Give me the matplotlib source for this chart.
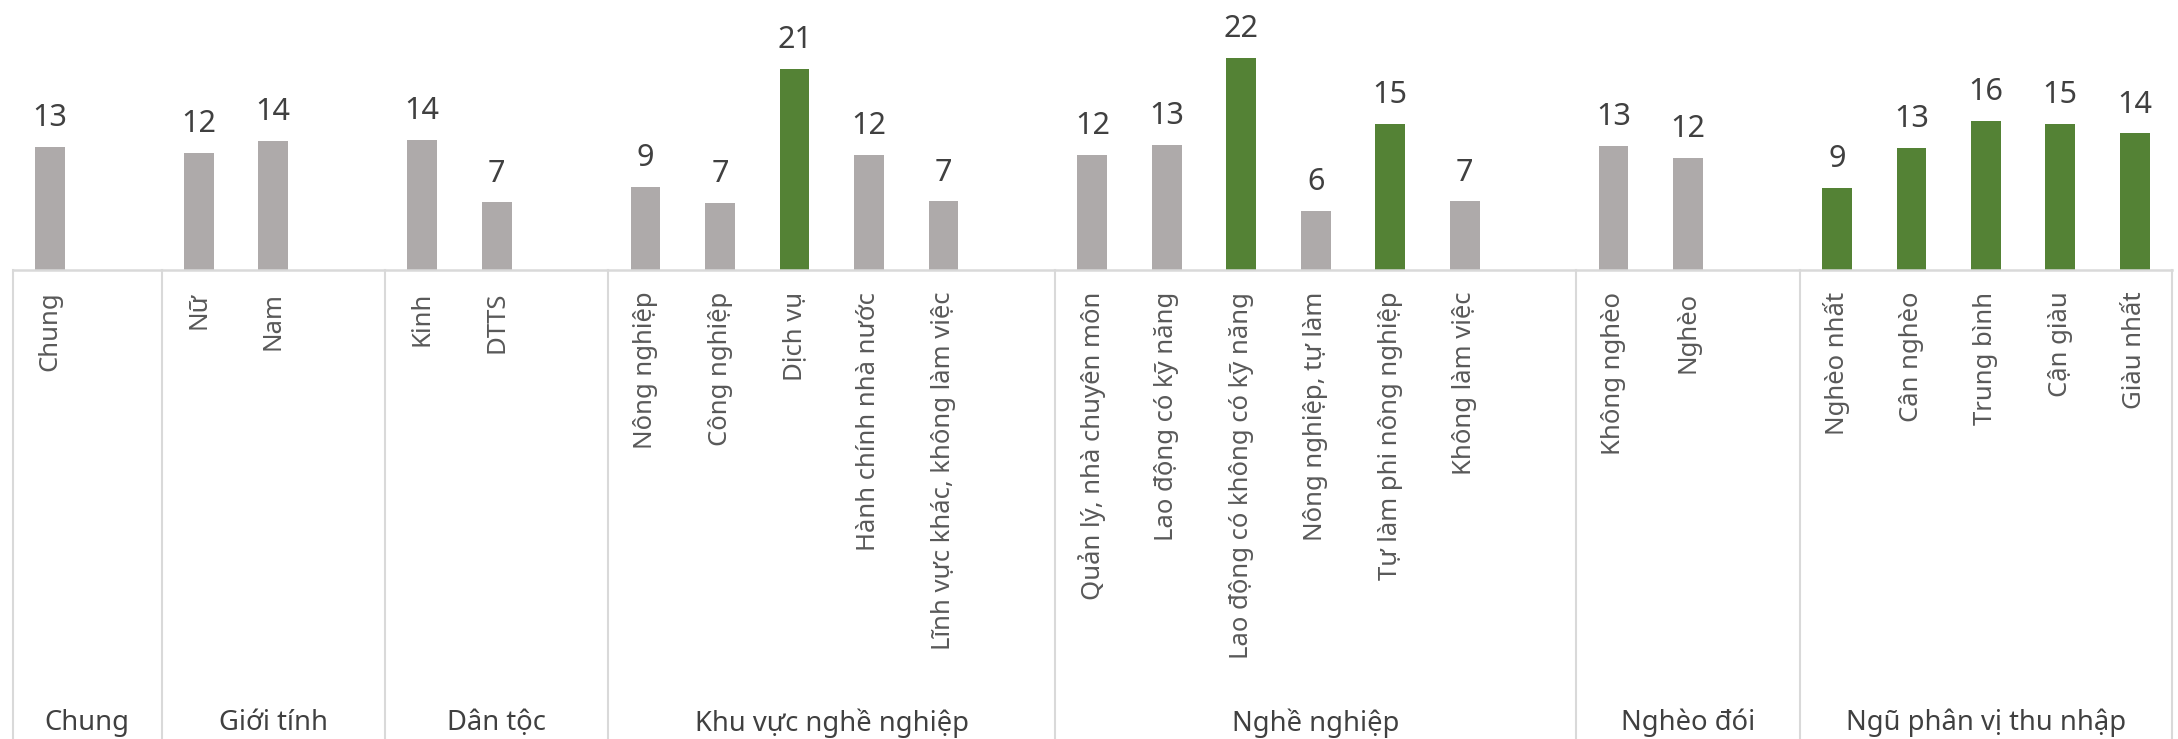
import matplotlib.pyplot as plt
import matplotlib.transforms as mtransforms

plt.rcParams['font.family'] = ['Noto Sans', 'DejaVu Sans']

# nhom va danh muc
nhom = ['Chung', 'Giới tính', 'Dân tộc', 'Khu vực nghề nghiệp',
        'Nghề nghiệp', 'Nghèo đói', 'Ngũ phân vị thu nhập']

cat_chung = ['Chung']
cat_gioi = ['Nữ', 'Nam']
cat_dantoc = ['Kinh', 'DTTS']
cat_khuvuc = ['Nông nghiệp', 'Công nghiệp', 'Dịch vụ', 'Hành chính nhà nước',
              'Lĩnh vực khác, không làm việc']
cat_nghe = ['Quản lý, nhà chuyên môn', 'Lao động có kỹ năng',
            'Lao động có không có kỹ năng', 'Nông nghiệp, tự làm',
            'Tự làm phi nông nghiệp', 'Không làm việc']
cat_ngheo = ['Không nghèo', 'Nghèo']
cat_nguphan = ['Nghèo nhất', 'Cân nghèo', 'Trung bình', 'Cận giàu', 'Giàu nhất']

val_chung = [13.0]
val_gioi = [12.3, 13.6]
val_dantoc = [13.7, 7.1]
val_khuvuc = [8.7, 7.0, 21.2, 12.1, 7.2]
val_nghe = [12.1, 13.2, 22.4, 6.2, 15.4, 7.2]
val_ngheo = [13.1, 11.8]
val_nguphan = [8.6, 12.9, 15.7, 15.4, 14.4]

# so o trong cuoi moi nhom (truc danh muc cua Excel)
o_trong = [1, 1, 1, 1, 1, 1, 0]

noi_bat = ['Dịch vụ', 'Lao động có không có kỹ năng', 'Tự làm phi nông nghiệp'] + cat_nguphan

cats = [cat_chung, cat_gioi, cat_dantoc, cat_khuvuc, cat_nghe, cat_ngheo, cat_nguphan]
vals = [val_chung, val_gioi, val_dantoc, val_khuvuc, val_nghe, val_ngheo, val_nguphan]

#%% vi tri

x, nhan, gt, mau = [], [], [], []
bien = [-0.5]
tam = []
pos = 0
for cs, vs, tr in zip(cats, vals, o_trong):
    start = pos
    for c, v in zip(cs, vs):
        x.append(pos)
        nhan.append(c)
        gt.append(v)
        mau.append('#548235' if c in noi_bat else '#AEAAAA')
        pos += 1
    pos += tr
    bien.append(pos - 0.5)
    tam.append((start + pos - 1) / 2)

#%% ve

W, H = 2178, 739
fig = plt.figure(figsize=(W / 100, H / 100), dpi=100)
base = 269.5
ax = fig.add_axes([12.7 / W, (H - base) / H, (2172 - 12.7) / W, base / H])

bars = ax.bar(x, gt, width=0.4, color=mau)
ax.bar_label(bars, labels=['%.0f' % v for v in gt], padding=10,
             fontsize=22, color='#404040')

ax.set_xlim(-0.5, pos - 0.5)
ax.set_ylim(0, base / 9.45)
ax.set_yticks([])
ax.set_xticks(x)
ax.set_xticklabels(nhan, rotation=90, ha='center', va='top',
                   fontsize=18.5, color='#595959')
ax.tick_params(axis='x', length=0, pad=16)

for s in ['top', 'left', 'right']:
    ax.spines[s].set_visible(False)
ax.spines['bottom'].set_color('#D9D9D9')
ax.spines['bottom'].set_linewidth(1.8)

trans = mtransforms.blended_transform_factory(ax.transData, ax.transAxes)
y_day = -(H - base) / base
for b in bien:
    ax.plot([b, b], [0, y_day], transform=trans, clip_on=False,
            color='#D9D9D9', lw=1.5)

y_nhom = -(723 - base) / base
for t, ten in zip(tam, nhom):
    ax.text(t, y_nhom, ten, transform=trans, ha='center', va='center',
            fontsize=19.7, color='#404040')

fig.savefig('out.png', dpi=100)
